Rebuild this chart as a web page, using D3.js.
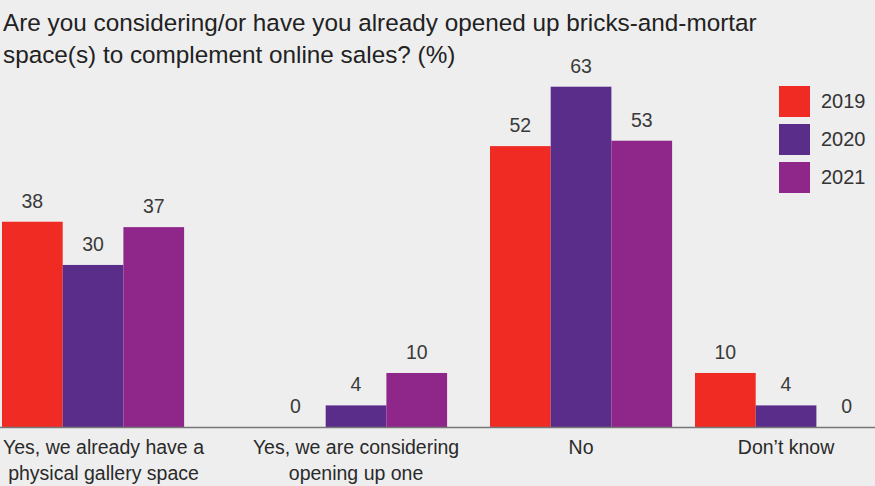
<!DOCTYPE html>
<html>
<head>
<meta charset="utf-8">
<script src="https://cdn.jsdelivr.net/npm/d3@7/dist/d3.min.js"></script>
<style>
body { margin: 0; background: #eeeeee; }
svg { display: block; font-family: "Liberation Sans", Arial, sans-serif; }
</style>
</head>
<body>
<svg id="chart" width="875" height="486"></svg>
<script>
"use strict";

var categories = [["Yes, we already have a", "physical gallery space"], ["Yes, we are considering", "opening up one"], ["No"], ["Don\u2019t know"]],
	years = ["2019", "2020", "2021"],
	values_2019 = [38, 0, 52, 10],
	values_2020 = [30, 4, 63, 4],
	values_2021 = [37, 10, 53, 0];

var series = [values_2019, values_2020, values_2021],
	colors = ["#ef2b24", "#5b2d8b", "#8f2689"],
	baseline = 427,
	bar_width = 60.7;

var svg = d3.select("#chart");

svg.append("rect").attr("width", 875).attr("height", 486).attr("fill", "#eeeeee");

//title
var title = svg.append("text")
	.attr("x", 3)
	.attr("fill", "#222")
	.style("font-size", "24.3px");
title.append("tspan").attr("x", 3).attr("y", 31).text("Are you considering/or have you already opened up bricks-and-mortar");
title.append("tspan").attr("x", 3).attr("y", 63).text("space(s) to complement online sales? (%)");

//group positions are not evenly spaced in the original
var x = d3.scaleOrdinal()
	.domain(d3.range(categories.length))
	.range([2, 265, 490, 695]);

var xInner = d3.scaleBand()
	.domain(years)
	.range([0, bar_width * 3]);

var y = d3.scaleLinear()
	.domain([0, 63])
	.range([baseline, 86.7]);

years.forEach(function(year, s) {
	var g = svg.append("g").attr("class", "series_" + year);

	g.selectAll("rect")
		.data(series[s])
		.enter().append("rect")
			.attr("x", function(d, i) { return x(i) + xInner(year); })
			.attr("y", function(d) { return y(d); })
			.attr("width", xInner.bandwidth())
			.attr("height", function(d) { return baseline - y(d); })
			.attr("fill", colors[s]);

	g.selectAll("text")
		.data(series[s])
		.enter().append("text")
			.attr("x", function(d, i) { return x(i) + xInner(year) + xInner.bandwidth() / 2; })
			.attr("y", function(d) { return y(d) - 14; })
			.attr("text-anchor", "middle")
			.attr("fill", "#3a3a3a")
			.style("font-size", "19.5px")
			.text(function(d) { return d; });
});

//baseline
svg.append("line")
	.attr("x1", 0).attr("x2", 875)
	.attr("y1", baseline + 0.5).attr("y2", baseline + 0.5)
	.attr("stroke", "#777")
	.attr("stroke-width", 1.6);

//category labels
categories.forEach(function(lines, i) {
	var cx = x(i) + bar_width * 1.5;
	var t = svg.append("text")
		.attr("text-anchor", "middle")
		.attr("fill", "#2a2a2a")
		.style("font-size", "19.5px");
	lines.forEach(function(line, k) {
		t.append("tspan").attr("x", cx).attr("y", 454 + k * 26).text(line);
	});
	//keep the first label inside the frame
	var w = t.node().getBBox().width;
	if (cx - w / 2 < 3) cx = 3 + w / 2;
	t.selectAll("tspan").attr("x", cx);
});

//legend
var legend = svg.append("g").attr("transform", "translate(779,86)");
years.forEach(function(year, s) {
	legend.append("rect")
		.attr("x", 0).attr("y", s * 38)
		.attr("width", 31).attr("height", 31)
		.attr("fill", colors[s]);
	legend.append("text")
		.attr("x", 42).attr("y", s * 38 + 22)
		.attr("fill", "#333")
		.style("font-size", "20px")
		.text(year);
});
</script>
</body>
</html>
